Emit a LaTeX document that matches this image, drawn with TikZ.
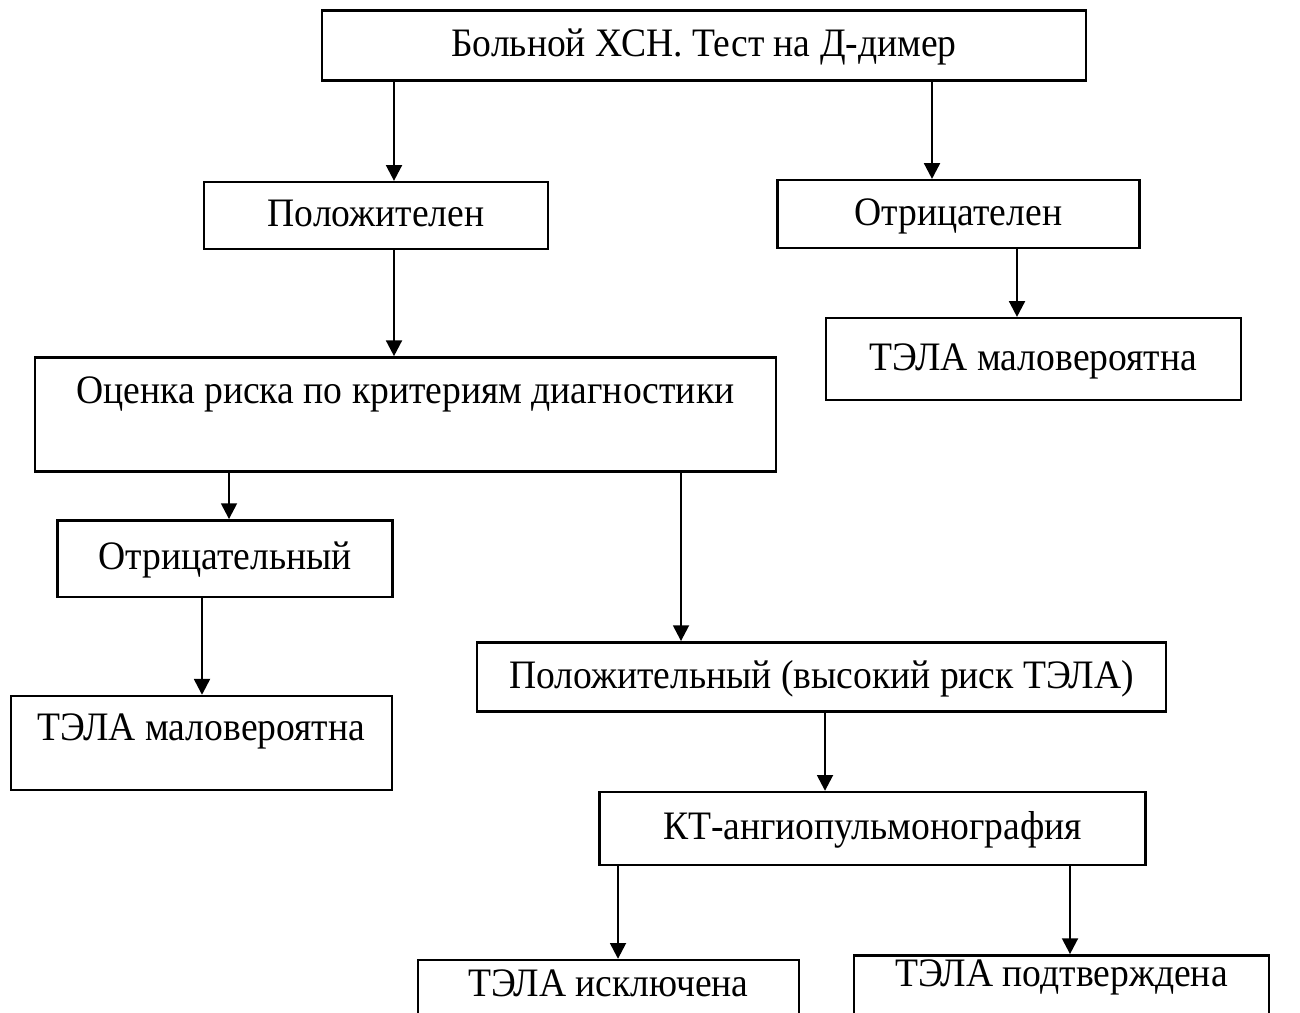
\documentclass[tikz,border=0pt]{standalone}
\usepackage{fontspec}
\setmainfont[FakeStretch=0.93]{Liberation Serif}
\usetikzlibrary{arrows.meta}

\begin{document}
\begin{tikzpicture}[x=0.02cm,y=-0.02cm,line width=1.4pt,
	every node/.style={font=\fontsize{23}{27}\selectfont}]
			\tikzstyle{myedgestyle} = [-{Triangle[width=9pt,length=9pt]}]
			\tikzstyle{mybox} = [draw,rectangle,inner sep=0pt,align=center,text height=17pt,text depth=4pt]
			\clip (0,0) rectangle (1300,1012);
			
			
			\node [mybox,minimum width=435pt,minimum height=40pt] (test) at (704,45.5) {Больной ХСН. Тест на Д-димер};
			\node [mybox,minimum width=196pt,minimum height=38pt] (pos) at (376,215.5) {Положителен};
			\node [mybox,minimum width=206pt,minimum height=38.5pt] (neg) at (958.5,214) {Отрицателен};
			\node [mybox,minimum width=236pt,minimum height=46.5pt] (unlikelyR) at (1033.5,359) {ТЭЛА маловероятна};
			
			\node [mybox,minimum width=422pt,minimum height=65pt,text depth=30pt] (risk) at (405.5,414.5) {Оценка риска по критериям диагностики};
			\node [mybox,minimum width=190.5pt,minimum height=43.5pt] (riskneg) at (225,558.5) {Отрицательный};
			\node [mybox,minimum width=217pt,minimum height=53.5pt,text depth=20pt] (unlikelyL) at (201.5,743) {ТЭЛА маловероятна};
			\node [mybox,minimum width=392pt,minimum height=39.5pt] (riskpos) at (821.5,677) {Положительный (высокий риск ТЭЛА)};
			\node [mybox,minimum width=311pt,minimum height=41.5pt] (ct) at (872.5,828.5) {КТ-ангиопульмонография};
			\node [mybox,minimum width=217pt,minimum height=45.5pt,text depth=21.5pt] (excl) at (608.5,1000) {ТЭЛА исключена};
			\node [mybox,minimum width=236pt,minimum height=48pt,text depth=30pt] (conf) at (1061.5,997.5) {ТЭЛА подтверждена};
	
			\draw [myedgestyle] (test.south -| 394,0) -- (pos.north -| 394,0);
			\draw [myedgestyle] (test.south -| 932,0) -- (neg.north -| 932,0);
			\draw [myedgestyle] (pos.south -| 394,0) -- (risk.north -| 394,0);
			\draw [myedgestyle] (neg.south -| 1017,0) -- (unlikelyR.north -| 1017,0);
			\draw [myedgestyle] (risk.south -| 229,0) -- (riskneg.north -| 229,0);
			\draw [myedgestyle] (risk.south -| 681,0) -- (riskpos.north -| 681,0);
			\draw [myedgestyle] (riskneg.south -| 202,0) -- (unlikelyL.north -| 202,0);
			\draw [myedgestyle] (riskpos.south -| 825,0) -- (ct.north -| 825,0);
			\draw [myedgestyle] (ct.south -| 618,0) -- (excl.north -| 618,0);
			\draw [myedgestyle] (ct.south -| 1070,0) -- (conf.north -| 1070,0);
			
			
			\end{tikzpicture}
\end{document}
